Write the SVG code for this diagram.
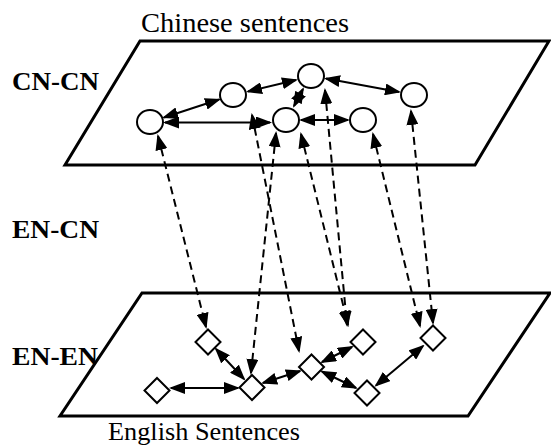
<svg xmlns="http://www.w3.org/2000/svg" width="551" height="447" viewBox="0 0 551 447">
<defs>
<marker id="ah" viewBox="0 0 16 12" refX="14" refY="6" markerWidth="16" markerHeight="12" markerUnits="userSpaceOnUse" orient="auto-start-reverse">
<path d="M0,0 L16,6 L0,12 z" fill="#000"/>
</marker>
<style>
.plane{fill:#fff;stroke:#000;stroke-width:3;stroke-linejoin:miter}
.node{fill:#fff;stroke:#000;stroke-width:2}
.solid{fill:none;stroke:#000;stroke-width:2;marker-start:url(#ah);marker-end:url(#ah)}
.dash{fill:none;stroke:#000;stroke-width:2;stroke-dasharray:8 5;marker-start:url(#ah);marker-end:url(#ah)}
.lbl{font-family:"Liberation Serif","Times New Roman",serif;fill:#000}
.side{font-family:"Liberation Serif","Times New Roman",serif;font-weight:bold;font-size:26px;fill:#000}
</style>
</defs>
<rect width="551" height="447" fill="#fff"/>
<g id="planes">
<polygon class="plane" points="140,41 549,41 475,165 65,165"/>
<polygon class="plane" points="142,293 550,293 468,416 60,416"/>
</g>
<g id="labels">
<text class="lbl" x="141" y="32" font-size="28" textLength="208" lengthAdjust="spacingAndGlyphs">Chinese sentences</text>
<text class="lbl" x="108" y="440" font-size="26" textLength="192" lengthAdjust="spacingAndGlyphs">English Sentences</text>
<text class="side" x="12" y="90" textLength="87" lengthAdjust="spacingAndGlyphs">CN-CN</text>
<text class="side" x="12" y="238" textLength="87" lengthAdjust="spacingAndGlyphs">EN-CN</text>
<text class="side" x="12" y="365" textLength="86" lengthAdjust="spacingAndGlyphs">EN-EN</text>
</g>
<g id="connectors">
<line class="solid" x1="164" y1="117.5" x2="219" y2="99.5"/>
<line class="solid" x1="165" y1="122.5" x2="270" y2="122.5"/>
<line class="solid" x1="248" y1="91.5" x2="296" y2="80"/>
<line class="solid" x1="303" y1="89" x2="294" y2="106"/>
<line class="solid" x1="326" y1="78.5" x2="399" y2="92"/>
<line class="solid" x1="301" y1="120" x2="348" y2="120"/>
<line class="solid" x1="216" y1="349" x2="244" y2="379"/>
<line class="solid" x1="171" y1="388" x2="238" y2="388"/>
<line class="solid" x1="263" y1="383" x2="300" y2="371"/>
<line class="solid" x1="322" y1="362" x2="352" y2="347"/>
<line class="solid" x1="322" y1="371.5" x2="356" y2="388"/>
<line class="solid" x1="376" y1="385.5" x2="423" y2="346"/>
<line class="dash" x1="158" y1="136" x2="206" y2="327"/>
<line class="dash" x1="252" y1="115" x2="299" y2="351"/>
<line class="dash" x1="276" y1="133" x2="251" y2="373"/>
<line class="dash" x1="301" y1="134" x2="348" y2="325"/>
<line class="dash" x1="325" y1="90" x2="347" y2="325"/>
<line class="dash" x1="373" y1="134" x2="420" y2="326"/>
<line class="dash" x1="411" y1="111" x2="433" y2="323"/>
</g>
<g id="C1"><ellipse class="node" cx="150" cy="122" rx="13" ry="12"/></g>
<g id="C2"><ellipse class="node" cx="233" cy="95" rx="13" ry="12"/></g>
<g id="C3"><ellipse class="node" cx="311" cy="76" rx="13" ry="12"/></g>
<g id="C4"><ellipse class="node" cx="286" cy="120" rx="13" ry="12"/></g>
<g id="C5"><ellipse class="node" cx="363" cy="120" rx="13" ry="12"/></g>
<g id="C6"><ellipse class="node" cx="414" cy="95" rx="13" ry="12"/></g>
<g id="D1"><polygon class="node" points="208,329.5 220.5,342 208,354.5 195.5,342"/></g>
<g id="D2"><polygon class="node" points="157,378 169.5,390.5 157,403 144.5,390.5"/></g>
<g id="D3"><polygon class="node" points="252,375 264.5,387.5 252,400 239.5,387.5"/></g>
<g id="D4"><polygon class="node" points="311.5,354.5 324,367 311.5,379.5 299,367"/></g>
<g id="D5"><polygon class="node" points="363,329.5 375.5,342 363,354.5 350.5,342"/></g>
<g id="D6"><polygon class="node" points="367,380.5 379.5,393 367,405.5 354.5,393"/></g>
<g id="D7"><polygon class="node" points="433,325.5 445.5,338 433,350.5 420.5,338"/></g>
</svg>
